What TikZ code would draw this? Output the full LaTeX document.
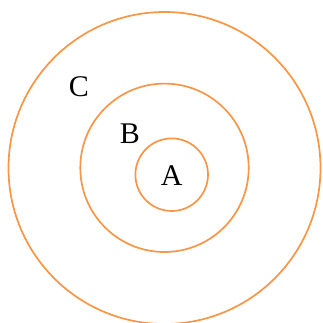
\documentclass[tikz,border=0pt]{standalone}
\usepackage{fontspec}
\setmainfont{Liberation Serif}
\definecolor{ringorange}{HTML}{F79646}
\begin{document}
\begin{tikzpicture}[x=1pt,y=-1pt,
  ring/.style={draw=ringorange,line width=1.7pt,circle,inner sep=0pt},
  lbl/.style={inner sep=0pt,font=\fontsize{30}{35}\selectfont}]
\useasboundingbox (0,0) rectangle (322,323);
\node[ring,minimum size=312pt] (ringC) at (164.5,168) {};
\node[ring,minimum size=168.4pt] (ringB) at (164.5,167.8) {};
\node[ring,minimum size=72.6pt] (ringA) at (171.7,174.7) {};
\node[lbl] (labC) at (78.8,86.3) {C};
\node[lbl] (labB) at (130,133.5) {B};
\node[lbl] (labA) at (171.7,175.2) {A};
\end{tikzpicture}
\end{document}
